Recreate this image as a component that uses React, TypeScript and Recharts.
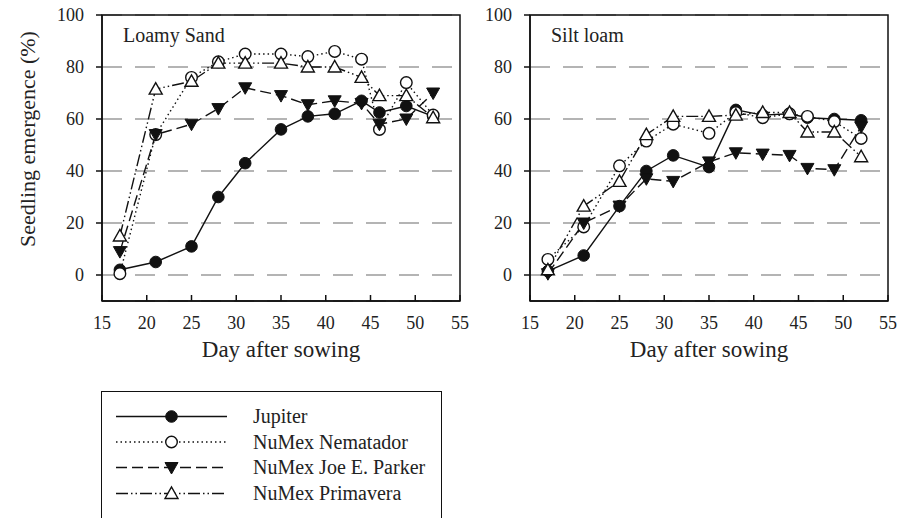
import { LineChart, Line, XAxis, YAxis, CartesianGrid, ReferenceArea, Label } from "recharts";

const days = [17, 21, 25, 28, 31, 35, 38, 41, 44, 46, 49, 52];
const xTicks = [15, 20, 25, 30, 35, 40, 45, 50, 55];
const yTicks = [0, 20, 40, 60, 80, 100];

// Loamy sand
const loamyJupiter = [2, 5, 11, 30, 43, 56, 61, 62, 67, 62.5, 65, 61];
const loamyNematador = [0.5, 54, 76, 82, 85, 85, 84, 86, 83, 56, 74, 61.5];
const loamyParker = [9, 54, 58, 64, 72, 69, 65.5, 67, 66, 58, 60, 70];
const loamyPrimavera = [15, 71.5, 74.5, 81.5, 81.5, 81.5, 80, 80, 76, 69, 69, 60.5];

// Silt loam
const siltJupiter = [1.5, 7.5, 26.5, 40, 46, 41.5, 63.5, 61.5, 62, 60.5, 60, 59.5];
const siltNematador = [6, 18.5, 42, 51.5, 58, 54.5, 62.5, 60.5, 62, 61, 59, 52.5];
const siltParker = [0.5, 20, 26.5, 37, 36, 43.5, 47, 46.5, 46, 41, 40.5, 57];
const siltPrimavera = [2, 26.5, 36, 54, 61, 61, 61.5, 62.5, 62.5, 55, 55, 45.5];

const FONT = "Liberation Serif";
const INK = "#111";

type Shape = "dot" | "circle" | "down" | "up";

const series: { key: string; name: string; dash?: string; shape: Shape }[] = [
  { key: "jupiter", name: "Jupiter", shape: "dot" },
  { key: "nematador", name: "NuMex Nematador", dash: "1.5 3", shape: "circle" },
  { key: "parker", name: "NuMex Joe E. Parker", dash: "11 5", shape: "down" },
  { key: "primavera", name: "NuMex Primavera", dash: "12 3 1.5 3 1.5 3", shape: "up" },
];

function build(j: number[], n: number[], p: number[], v: number[]) {
  return days.map((day, i) => ({
    day,
    jupiter: j[i],
    nematador: n[i],
    parker: p[i],
    primavera: v[i],
  }));
}

const loamyData = build(loamyJupiter, loamyNematador, loamyParker, loamyPrimavera);
const siltData = build(siltJupiter, siltNematador, siltParker, siltPrimavera);

function Marker({ cx, cy, shape }: { cx: number; cy: number; shape: Shape }) {
  if (shape === "dot") return <circle cx={cx} cy={cy} r={5.8} fill={INK} stroke={INK} />;
  if (shape === "circle")
    return <circle cx={cx} cy={cy} r={5.8} fill="#fff" stroke={INK} strokeWidth={1.4} />;
  if (shape === "down")
    return (
      <path
        d={`M${cx - 6.5},${cy - 5} L${cx + 6.5},${cy - 5} L${cx},${cy + 6.5} Z`}
        fill={INK}
        stroke={INK}
      />
    );
  return (
    <path
      d={`M${cx - 6.5},${cy + 5} L${cx + 6.5},${cy + 5} L${cx},${cy - 6.5} Z`}
      fill="#fff"
      stroke={INK}
      strokeWidth={1.4}
    />
  );
}

interface PanelProps {
  data: typeof loamyData;
  title: string;
  left: number;
  width: number;
  yAxisWidth: number;
}

function Panel({ data, title, left, width, yAxisWidth }: PanelProps) {
  const tickStyle = { fill: "#222", fontSize: 18, fontFamily: FONT };
  return (
    <div style={{ position: "absolute", left, top: 0 }}>
      <LineChart
        width={width}
        height={363}
        data={data}
        margin={{ top: 15, right: 10, bottom: 0, left: 0 }}
      >
        <CartesianGrid
          vertical={false}
          stroke="#b4b4b4"
          strokeWidth={2}
          strokeDasharray="20 13"
        />
        <XAxis
          dataKey="day"
          type="number"
          domain={[15, 55]}
          ticks={xTicks}
          interval={0}
          height={62}
          tickSize={-6}
          tickMargin={21}
          tick={tickStyle}
          stroke={INK}
          axisLine={{ stroke: INK, strokeWidth: 1.5 }}
          tickLine={{ stroke: INK, strokeWidth: 1.5 }}
        >
          <Label
            value="Day after sowing"
            position="insideBottom"
            offset={6}
            style={{ fontSize: 23, fontFamily: FONT, fill: "#222" }}
          />
        </XAxis>
        <YAxis
          type="number"
          domain={[-10, 100]}
          ticks={yTicks}
          interval={0}
          width={yAxisWidth}
          tickSize={6}
          tickMargin={12}
          tick={tickStyle}
          axisLine={{ stroke: INK, strokeWidth: 1.5 }}
          tickLine={{ stroke: INK, strokeWidth: 1.5 }}
        />
        <ReferenceArea
          x1={15}
          x2={55}
          y1={-10}
          y2={100}
          fill="none"
          stroke={INK}
          strokeWidth={1.5}
        />
        {series.map((s) => (
          <Line
            key={s.key}
            dataKey={s.key}
            name={s.name}
            type="linear"
            stroke={INK}
            strokeWidth={1.4}
            strokeDasharray={s.dash}
            dot={(p: any) => <Marker key={`${s.key}-${p.index}`} cx={p.cx} cy={p.cy} shape={s.shape} />}
            activeDot={false}
            isAnimationActive={false}
          />
        ))}
      </LineChart>
      <div
        style={{
          position: "absolute",
          left: yAxisWidth + 21,
          top: 23,
          fontSize: 20,
          lineHeight: "24px",
          color: "#222",
          whiteSpace: "nowrap",
        }}
      >
        {title}
      </div>
    </div>
  );
}

function LegendBox() {
  const rows = [24.5, 50, 75.5, 101.5];
  return (
    <div
      style={{
        position: "absolute",
        left: 101,
        top: 391,
        width: 341,
        height: 150,
        border: `1.5px solid ${INK}`,
        boxSizing: "border-box",
        background: "#fff",
      }}
    >
      <svg width={340} height={148} style={{ display: "block" }}>
        {series.map((s, i) => (
          <g key={s.key}>
            <line
              x1={14}
              x2={125}
              y1={rows[i]}
              y2={rows[i]}
              stroke={INK}
              strokeWidth={1.4}
              strokeDasharray={s.dash}
            />
            <Marker cx={69.5} cy={rows[i]} shape={s.shape} />
            <text
              x={151}
              y={rows[i] + 6.5}
              fontSize={20}
              fontFamily={FONT}
              fill="#222"
            >
              {s.name}
            </text>
          </g>
        ))}
      </svg>
    </div>
  );
}

export default function App() {
  return (
    <div
      style={{
        position: "absolute",
        left: 0,
        top: 0,
        width: 910,
        height: 518,
        overflow: "hidden",
        background: "#fff",
        fontFamily: FONT,
      }}
    >
      <Panel data={loamyData} title="Loamy Sand" left={0} width={470} yAxisWidth={102} />
      <Panel data={siltData} title="Silt loam" left={440} width={458} yAxisWidth={90} />
      <div
        style={{
          position: "absolute",
          left: 28,
          top: 139,
          transform: "translate(-50%, -50%) rotate(-90deg)",
          fontSize: 22,
          color: "#222",
          whiteSpace: "nowrap",
        }}
      >
        Seedling emergence (%)
      </div>
      <LegendBox />
    </div>
  );
}
